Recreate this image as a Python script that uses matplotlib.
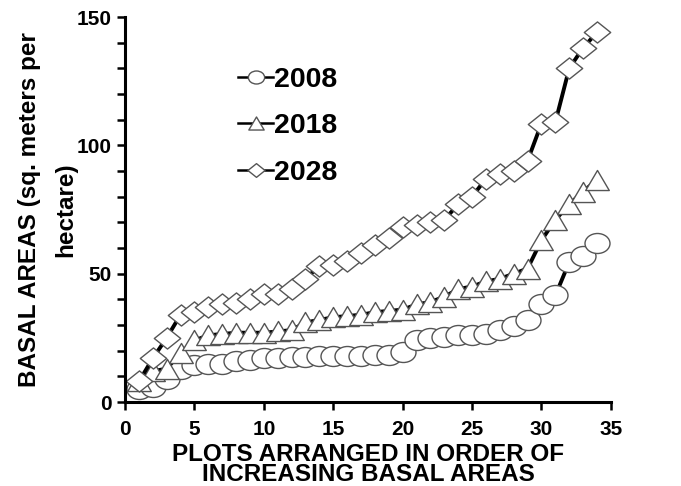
import matplotlib
matplotlib.use("Agg")
import matplotlib.pyplot as plt
import numpy as np
from matplotlib.path import Path
from matplotlib.transforms import Affine2D
from matplotlib.markers import MarkerStyle

plt.rcParams['font.family'] = ['Liberation Sans', 'DejaVu Sans']

plots = list(range(1, 35))
y2008 = [5, 6, 9, 13, 14.5, 15, 15, 16, 16.5, 17, 17, 17.5, 17.5, 18, 18, 18, 18, 18.5, 18.5, 19.5,
         24, 25, 25.5, 26, 26, 26.5, 28, 29.5, 32, 38, 41.5, 54.5, 57, 62]
y2018 = [8, 12, 13, 19, 24, 26, 26.5, 27, 27, 27, 27.5, 28, 31, 32, 33, 33.5, 34, 35, 35.5, 36,
         38, 39, 41, 44, 45, 47, 48, 50, 52, 63, 71, 77, 82, 86.5]
y2028 = [8, 17, 25, 34, 35, 37, 38, 38.5, 40, 42, 42, 44, 48, 53, 53.5, 55, 58, 61, 64, 68,
         69, 70, 71, 77, 80, 87, 89, 90, 94, 108.5, 109, 130, 138, 144]
labels = ["2008", "2018", "2028"]

fig = plt.figure(figsize=(6.81, 4.86), dpi=100)
ax = fig.add_axes([0.1836, 0.1728, 0.897 - 0.1836, 0.965 - 0.1728])

ell = MarkerStyle(Path.unit_circle().transformed(Affine2D().scale(1.0, 0.8)))
tri = MarkerStyle(Path([(-1, -0.85), (1, -0.85), (0, 0.85), (-1, -0.85)],
                       [Path.MOVETO, Path.LINETO, Path.LINETO, Path.CLOSEPOLY]))
dia = MarkerStyle(Path([(-1, 0), (0, 0.8), (1, 0), (0, -0.8), (-1, 0)],
                       [Path.MOVETO, Path.LINETO, Path.LINETO, Path.LINETO, Path.CLOSEPOLY]))

kw = dict(color='black', lw=2.8, mfc='white', mec='#555555', mew=1.0)
ax.plot(plots, y2008, marker=ell, ms=18, label=labels[0], **kw)
ax.plot(plots, y2018, marker=tri, ms=17, label=labels[1], **kw)
ax.plot(plots, y2028, marker=dia, ms=19, label=labels[2], **kw)

ax.set_xlim(0, 35)
ax.set_ylim(0, 150)
ax.set_xticks(range(0, 36, 5))
ax.set_yticks([0, 50, 100, 150])
ax.set_yticks(range(0, 151, 10), minor=True)
for s in ['top', 'right']:
    ax.spines[s].set_visible(False)
for s in ['left', 'bottom']:
    ax.spines[s].set_linewidth(2.2)
ax.tick_params(axis='both', which='major', direction='out', length=6, width=1.8,
               labelsize=15)
ax.tick_params(axis='x', which='major', pad=7)
ax.tick_params(axis='y', which='minor', direction='out', length=6, width=1.8)
for t in ax.get_xticklabels() + ax.get_yticklabels():
    t.set_fontweight('bold')

ax.set_xlabel("PLOTS ARRANGED IN ORDER OF\nINCREASING BASAL AREAS", fontsize=17.5,
              fontweight='bold', labelpad=3, linespacing=0.8)
ax.set_ylabel("BASAL AREAS (sq. meters per\nhectare)", fontsize=17.5,
              fontweight='bold', labelpad=0, linespacing=1.7)

leg = ax.legend(loc='upper left', bbox_to_anchor=(0.21, 0.9), frameon=False,
                prop={'weight': 'bold', 'size': 20.5}, handlelength=1.2,
                handletextpad=0.05, labelspacing=0.72, markerscale=0.65,
                borderaxespad=0)
for h in leg.get_lines():
    h.set_linewidth(1.8)

fig.savefig("out.png", dpi=100)
